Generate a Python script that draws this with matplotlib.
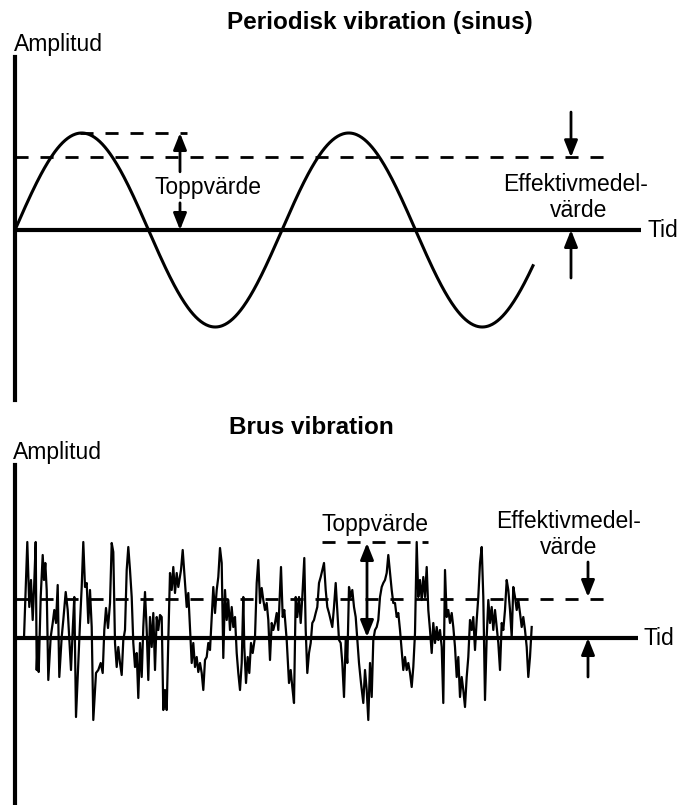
import numpy as np
import matplotlib
matplotlib.use("Agg")
import matplotlib.pyplot as plt

plt.rcParams['font.family'] = ['Liberation Sans', 'DejaVu Sans']

# --- periodic (sine) signal ---
sine_start = 15          # time where the signal starts (same units as the noise time)
sine_period = 267
sine_cycles = 1.94
sine_amp = 1.0
sine_peak = 1.0
sine_rms = 0.75

# --- noise signal ---
noise_t = [
    24, 27.3, 29.3, 31, 32.7, 34, 35.7, 36.7, 37.7, 38.7, 40.7, 42.7, 44, 45.3, 46.7, 48.3,
    50.7, 52.7, 54.3, 56, 57.7, 59.3, 61.7, 63.3, 65.7, 67.7, 69.3, 71, 72.7, 74.3, 76, 78.3,
    80, 81.7, 83.3, 85, 86.7, 88.3, 90, 91.7, 93.3, 96, 98.3, 100.7, 102.7, 104.3,
    106, 108, 110, 111.7, 113.3, 115, 116.7, 118.3, 120, 121.7, 123.3, 125, 126.7, 128.3, 130,
    131.7, 133.3, 135, 136.7, 138.3, 140, 141.7, 143.3, 145, 146.7, 148.3, 150, 151.7, 153.3,
    155, 156.7, 158.3, 160, 161.7, 163.3, 165, 166.7, 168.3, 170, 171.7, 173.3, 175, 176.7,
    178.3, 181, 182.7, 185, 186.7, 188.3,
    191.7, 193.3, 195, 196.7, 198.3, 200, 201.7, 203.3, 205, 206.7, 208.3, 210, 211.7, 213.3,
    215, 216.7, 218.3, 220, 221.7, 223.3, 225, 226.7, 228.3, 230, 231.7, 233.3, 235, 236.7,
    238.3, 240, 241.7, 243.3, 244.3, 246, 247.7, 249.3, 251, 252.7, 255, 256.7, 258.3, 260,
    261.7, 263.3, 265, 266.7, 268.3, 270, 271.7, 273.3,
    275, 276.7, 278.3, 281, 282.7, 284.3, 286.7, 289, 290.7, 292.3, 294, 295.7, 297.3, 299,
    300.7, 302.3, 304.3, 305.7, 307.3, 309, 310.7, 312.3, 314, 315.7, 317.3, 319, 320.7, 322.3,
    324, 325.7, 327.3, 329, 330.7, 332.3, 334, 335.7, 337.3, 339, 340.7, 342.3, 344, 345.7,
    347.3, 349, 350.7, 352.3, 354, 355.7, 357.3, 359,
    361, 363.3, 365, 366.7, 368.3, 370, 371.7, 373.3, 375, 376.7, 378.3, 380, 381.7, 383.3,
    385, 386.7, 388.3, 390, 391.7, 393.3, 395, 396.7, 398.3, 400, 401.7, 403.3, 405, 406.7,
    408.3, 410, 411.7, 413.3, 415, 416.7, 418.3, 420, 421.7, 423.3, 425, 426.7, 428.3, 430,
    431.7, 433.3, 435, 436.7, 438.3, 440, 441.7, 443.3, 445,
    446.7, 448.3, 450, 451.7, 453.3, 455, 456.7, 458.3, 460, 461.7, 463.3, 465, 466.7, 468.3,
    470, 471.7, 473.3, 475, 476.7, 478.3, 480, 481.7, 483.3, 485, 486.7, 488.3, 490, 491.7,
    493.3, 495, 496.7, 498.3, 500, 501.7, 503.3, 505, 506.7, 508.3, 510, 511.7, 513.3, 515,
    516.7, 518.3, 520, 521.7, 523.3, 525, 526.7, 528.3, 530, 531.7,
]
noise_amp = [
    0, 0.96, 0.31, 0.58, 0.18, 0.48, 0.96, -0.32, -0.02, -0.34, 0.41, 0.83, 0.58, 0.75, 0.48, -0.42,
    0.01, 0.15, 0.28, 0.15, 0.53, -0.39, 0.01, 0.18, 0.46, 0.28, -0.02, -0.32, 0.08, 0.41, -0.79, -0.25,
    0.15, 0.51, 0.96, 0.51, 0.55, 0.15, 0.48, 0.11, -0.82, -0.35, -0.32, -0.25, -0.35, 0.08,
    0.30, 0.10, 0.35, 0.95, 0.86, -0.05, -0.29, -0.09, -0.25, -0.37, -0.02, 0.08, 0.68, 0.91, 0.68,
    0.41, -0.05, -0.29, -0.15, -0.60, -0.05, -0.39, 0.11, 0.46, 0.08, -0.42, 0.21, -0.09, 0.25,
    -0.32, 0.21, 0.08, 0.23, 0.21, -0.72, -0.52, -0.72, -0.02, 0.65, 0.48, 0.71, 0.45, 0.65,
    0.51, 0.68, 0.88, 0.55, 0.31, 0.45,
    -0.25, -0.05, -0.29, -0.19, -0.34, -0.25, -0.35, -0.52, -0.22, -0.19, -0.05, -0.12, 0.21, 0.51,
    0.25, 0.48, 0.61, 0.90, 0.75, -0.20, 0.48, 0.18, 0.38, 0.08, 0.31, 0.11, 0.21, -0.15,
    -0.35, -0.52, -0.25, 0.41, -0.09, -0.45, -0.19, -0.35, -0.05, -0.15, 0.01, 0.55, 0.78, 0.35,
    0.50, 0.38, 0.28, 0.35, 0.18, -0.22, 0.15, 0.08,
    0.15, 0.25, 0.08, 0.71, 0.21, 0.28, -0.02, -0.45, -0.32, -0.49, -0.65, 0.41, 0.21, 0.41,
    0.15, 0.41, 0.80, 0.08, -0.35, -0.15, -0.05, 0.15, 0.18, 0.25, 0.31, 0.55, 0.61, 0.68,
    0.75, 0.48, 0.31, 0.25, 0.18, 0.11, 0.31, 0.55, 0.28, -0.02, -0.05, -0.25, -0.59, -0.02,
    -0.25, 0.51, 0.41, 0.48, 0.31, 0.21, -0.02, -0.25,
    -0.45, -0.65, -0.32, -0.52, -0.82, -0.25, -0.59, -0.02, 0.08, 0.11, 0.18, 0.41, 0.51, 0.55,
    0.58, 0.65, 0.83, 0.65, 0.48, 0.35, 0.35, 0.21, 0.25, 0.08, -0.12, -0.32, -0.19, -0.32,
    -0.25, -0.35, -0.49, -0.29, 0.05, 0.96, 0.41, 0.58, 0.38, 0.61, 0.41, 0.71, 0.28, 0.08,
    -0.15, 0.15, -0.05, 0.11, -0.02, 0.08, -0.09, -0.65, 0.68,
    0.21, 0.28, 0.15, 0.25, 0.11, -0.09, -0.39, -0.19, -0.59, -0.39, -0.52, -0.69, -0.39, -0.19,
    0.18, 0.08, 0.21, -0.12, 0.18, 0.41, 0.75, 0.91, 0.41, -0.62, 0.01, 0.38, 0.15, 0.31,
    0.08, 0.28, 0.11, -0.05, -0.32, 0.15, 0.08, 0.28, 0.58, 0.48, 0.28, 0.01, 0.51, 0.41,
    0.28, 0.38, 0.25, 0.11, 0.21, 0.08, -0.09, -0.39, -0.19, 0.11,
]
noise_peak = 0.96
noise_rms = 0.39

W, H = 680, 805
fig = plt.figure(figsize=(W / 100, H / 100), dpi=100)

ax1 = fig.add_axes([15 / W, (H - 400) / H, 665 / W, 343 / H])
ax2 = fig.add_axes([15 / W, 0, 665 / W, 340 / H])

txt = dict(fontsize=16.5, color='black')
arrow = dict(arrowstyle='-|>,head_length=0.5,head_width=0.2', lw=2, color='black',
             mutation_scale=20, shrinkA=0, shrinkB=0)
dash = dict(color='black', lw=2, dashes=(4.7, 4.3))

for ax in (ax1, ax2):
    ax.set_xlim(15, 680)
    for s in ('top', 'right', 'bottom'):
        ax.spines[s].set_visible(False)
    ax.spines['left'].set_linewidth(3)
    ax.set_xticks([])
    ax.set_yticks([])
    ax.patch.set_alpha(0)

# ---------- top: periodic vibration ----------
ax1.set_ylim(-170 / 97, 173 / 97)
t = np.linspace(sine_start, sine_start + sine_cycles * sine_period, 600)
ax1.plot(t, sine_amp * np.sin(2 * np.pi * (t - sine_start) / sine_period), color='black', lw=2.2)
ax1.plot([15, 641], [0, 0], color='black', lw=3, solid_capstyle='butt')
ax1.plot([80, 187], [sine_peak, sine_peak], **dash)
ax1.plot([15, 613], [sine_rms, sine_rms], **dash)
ax1.annotate('', xy=(180, sine_peak), xytext=(180, 0.60), arrowprops=arrow)
ax1.annotate('', xy=(180, 0), xytext=(180, 0.28), arrowprops=arrow)
ax1.text(208, 0.433, 'Toppvärde', ha='center', va='center', **txt)
ax1.annotate('', xy=(571, sine_rms), xytext=(571, 1.216), arrowprops=arrow)
ax1.annotate('', xy=(571, 0), xytext=(571, -0.495), arrowprops=arrow)
ax1.text(576, 0.464, 'Effektivmedel-', ha='center', va='center', **txt)
ax1.text(579, 0.206, 'värde', ha='center', va='center', **txt)
ax1.text(647, 0, 'Tid', ha='left', va='center', **txt)

# ---------- bottom: noise ----------
ax2.set_ylim(-1.67, 1.73)
ax2.plot([15, 606], [noise_rms, noise_rms], **dash)
ax2.plot([322, 428], [noise_peak, noise_peak], **dash)
ax2.plot(noise_t, noise_amp, color='black', lw=1.6, zorder=3)
ax2.plot([15, 638], [0, 0], color='black', lw=3, solid_capstyle='butt', zorder=4)
ax2.annotate('', xy=(367, noise_peak - 0.01), xytext=(367, 0.01),
             arrowprops=dict(arrow, arrowstyle='<|-|>,head_length=0.5,head_width=0.2'), zorder=5)
ax2.text(375, 1.14, 'Toppvärde', ha='center', va='center', **txt)
ax2.annotate('', xy=(588, noise_rms + 0.02), xytext=(588, 0.76), arrowprops=arrow)
ax2.annotate('', xy=(588, 0), xytext=(588, -0.39), arrowprops=arrow)
ax2.text(569, 1.16, 'Effektivmedel-', ha='center', va='center', **txt)
ax2.text(569, 0.91, 'värde', ha='center', va='center', **txt)
ax2.text(644, 0, 'Tid', ha='left', va='center', **txt)

# titles and axis labels
fig.text(380 / W, 1 - 22 / H, 'Periodisk vibration (sinus)', ha='center', va='center',
         fontsize=17.5, fontweight='bold')
fig.text(311 / W, 1 - 427 / H, 'Brus vibration', ha='center', va='center',
         fontsize=17.5, fontweight='bold')
fig.text(14 / W, 1 - 45 / H, 'Amplitud', ha='left', va='center', **txt)
fig.text(13 / W, 1 - 452 / H, 'Amplitud', ha='left', va='center', **txt)

fig.savefig('out.png', dpi=100, facecolor='white')
